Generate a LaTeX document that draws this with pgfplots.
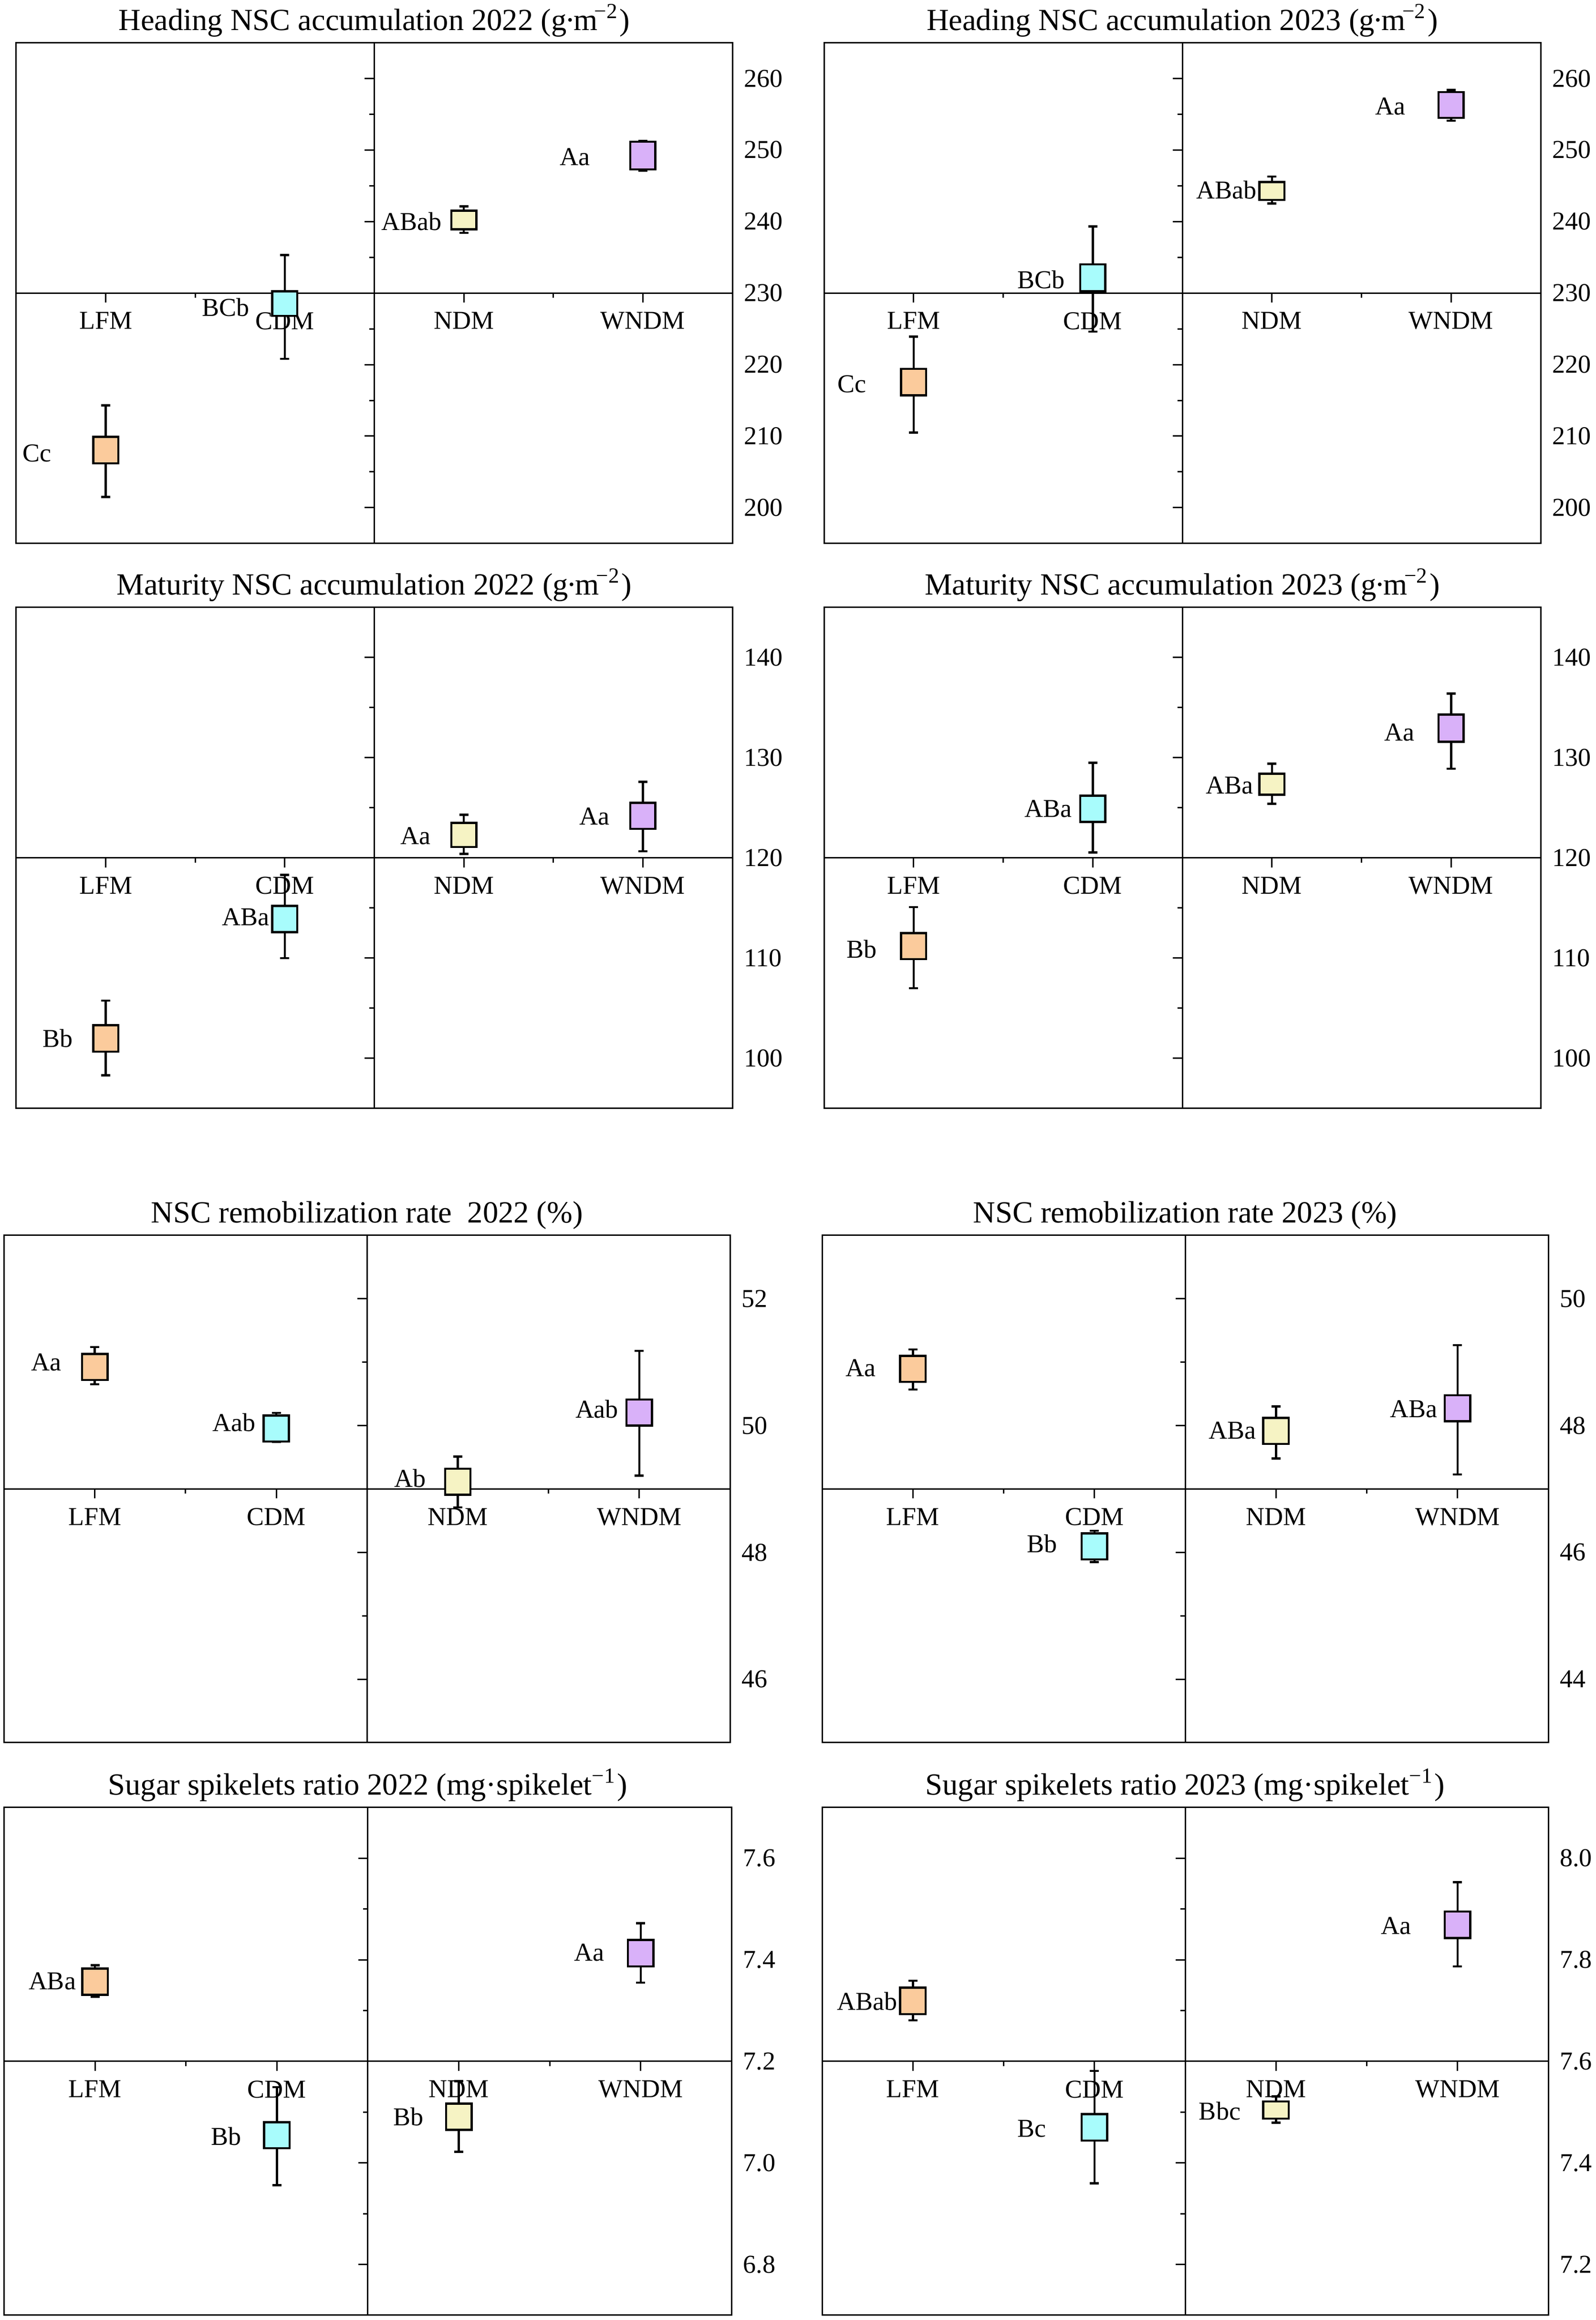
\documentclass[border=0pt]{standalone}
\usepackage{fontspec}
\setmainfont{Liberation Serif}
\usepackage{pgfplots}
\pgfplotsset{compat=1.18}
\definecolor{cLFM}{HTML}{FBCB9C}
\definecolor{cCDM}{HTML}{A8FCFC}
\definecolor{cNDM}{HTML}{F6F3C4}
\definecolor{cWNDM}{HTML}{D9B1F9}
\newcommand{\lblfont}{\fontsize{5.4}{6.5}\selectfont}
\newcommand{\ttlfont}{\fontsize{6.45}{7.7}\selectfont}
\newcommand{\gm}{(g\kern-0.05em·\kern-0.05em m\kern-0.1em\textsuperscript{−2})}
\pgfplotsset{
  midax/.style={scale only axis, anchor=north west, xmin=-2, xmax=2,
    axis lines=middle, axis line style={-, line width=0.3pt}, inner axis line style={-},
    xtick={-1.5,-0.5,0.5,1.5}, xticklabels={LFM,CDM,NDM,WNDM}, minor xtick={-1,0,1},
    yticklabels={}, tick align=outside, major tick length=2pt, minor tick length=1pt,
    every tick/.style={black, line width=0.3pt}, tick label style={font=\lblfont},
    xticklabel style={yshift=1.5pt}, /pgf/number format/assume math mode=true},
  mainax/.style={scale only axis, anchor=north west, xmin=0.5, xmax=4.5, xtick=\empty,
    yticklabel pos=right, major tick length=0pt, axis line style={line width=0.3pt},
    tick label style={font=\lblfont}, yticklabel style={xshift=-1.1pt},
    /pgf/number format/assume math mode=true,
    every axis title shift=0pt,
    title style={font=\ttlfont, at={(0.5,1)}, anchor=base, yshift=2.6pt}, clip=false},
}
% #1 colour, #2 position, #3 lower whisker, #4 box bottom, #5 mean, #6 box top, #7 upper whisker
\newcommand{\bx}[7]{%
  \pgfmathsetmacro\xbl{#2-0.07}\pgfmathsetmacro\xbr{#2+0.07}%
  \pgfmathsetmacro\xcl{#2-0.025}\pgfmathsetmacro\xcr{#2+0.025}%
  \addplot[black, line width=0.45pt] coordinates {(#2,#3) (#2,#7)};
  \addplot[black, line width=0.45pt] coordinates {(\xcl,#3) (\xcr,#3)};
  \addplot[black, line width=0.45pt] coordinates {(\xcl,#7) (\xcr,#7)};
  \addplot[draw=black, line width=0.45pt, fill=#1] coordinates {(\xbl,#4) (\xbr,#4) (\xbr,#6) (\xbl,#6)} -- cycle;
}
\newcommand{\lab}[3]{\node[anchor=east, inner sep=0pt, font=\lblfont] at (axis cs:#1,#2) {#3};}
\begin{document}
\begin{tikzpicture}
\useasboundingbox (0,0) rectangle (334.4pt,486.2pt);
% ---------- P1 Heading 2022
\begin{axis}[midax, at={(3.4pt,477.25pt)}, width=150.1pt, height=104.95pt,
  ymin=-35, ymax=35, ytick={-30,-20,-10,10,20,30}, minor ytick={-25,-15,-5,5,15,25}]
\end{axis}
\begin{axis}[mainax, at={(3.4pt,477.25pt)}, width=150.1pt, height=104.95pt,
  ymin=195, ymax=265, ytick={200,210,...,260},
  title={Heading NSC accumulation 2022 \gm}]
\bx{cLFM}{1}{201.5}{206.2}{208.0}{209.9}{214.3}
\bx{cCDM}{2}{220.8}{226.8}{228.5}{230.25}{235.3}
\bx{cNDM}{3}{238.4}{238.9}{240.2}{241.5}{242.1}
\bx{cWNDM}{4}{247.1}{247.3}{249.2}{251.15}{251.3}
\lab{0.70}{207.6}{Cc}
\lab{1.807}{228.0}{BCb}
\lab{2.88}{240.0}{ABab}
\lab{3.71}{249.0}{Aa}
\end{axis}
% ---------- P2 Heading 2023
\begin{axis}[midax, at={(172.7pt,477.25pt)}, width=150.2pt, height=104.95pt,
  ymin=-35, ymax=35, ytick={-30,-20,-10,10,20,30}, minor ytick={-25,-15,-5,5,15,25}]
\end{axis}
\begin{axis}[mainax, at={(172.7pt,477.25pt)}, width=150.2pt, height=104.95pt,
  ymin=195, ymax=265, ytick={200,210,...,260},
  title={Heading NSC accumulation 2023 \gm}]
\bx{cLFM}{1}{210.5}{215.7}{217.5}{219.4}{223.9}
\bx{cCDM}{2}{224.6}{230.25}{232.1}{234.0}{239.3}
\bx{cNDM}{3}{242.5}{243.0}{244.2}{245.5}{246.3}
\bx{cWNDM}{4}{254.1}{254.5}{256.3}{258.1}{258.4}
\lab{0.74}{217.3}{Cc}
\lab{1.85}{231.9}{BCb}
\lab{2.92}{244.4}{ABab}
\lab{3.75}{256.1}{Aa}
\end{axis}
% ---------- P3 Maturity 2022
\begin{axis}[midax, at={(3.4pt,358.9pt)}, width=150.1pt, height=105pt,
  ymin=-25, ymax=25, ytick={-20,-10,10,20}, minor ytick={-15,-5,5,15}]
\end{axis}
\begin{axis}[mainax, at={(3.4pt,358.9pt)}, width=150.1pt, height=105pt,
  ymin=95, ymax=145, ytick={100,110,...,140},
  title={Maturity NSC accumulation 2022 \gm}]
\bx{cLFM}{1}{98.3}{100.65}{102.0}{103.3}{105.76}
\bx{cCDM}{2}{110.0}{112.6}{113.9}{115.2}{118.3}
\bx{cNDM}{3}{120.4}{121.1}{122.3}{123.5}{124.3}
\bx{cWNDM}{4}{120.66}{122.9}{124.2}{125.5}{127.6}
\lab{0.82}{102.0}{Bb}
\lab{1.92}{114.1}{ABa}
\lab{2.82}{122.2}{Aa}
\lab{3.82}{124.15}{Aa}
\end{axis}
% ---------- P4 Maturity 2023
\begin{axis}[midax, at={(172.7pt,358.9pt)}, width=150.2pt, height=105pt,
  ymin=-25, ymax=25, ytick={-20,-10,10,20}, minor ytick={-15,-5,5,15}]
\end{axis}
\begin{axis}[mainax, at={(172.7pt,358.9pt)}, width=150.2pt, height=105pt,
  ymin=95, ymax=145, ytick={100,110,...,140},
  title={Maturity NSC accumulation 2023 \gm}]
\bx{cLFM}{1}{107.0}{109.9}{111.2}{112.5}{115.1}
\bx{cCDM}{2}{120.55}{123.6}{124.9}{126.2}{129.5}
\bx{cNDM}{3}{125.4}{126.3}{127.35}{128.4}{129.4}
\bx{cWNDM}{4}{128.9}{131.6}{132.95}{134.3}{136.4}
\lab{0.80}{110.9}{Bb}
\lab{1.89}{124.9}{ABa}
\lab{2.90}{127.25}{ABa}
\lab{3.80}{132.5}{Aa}
\end{axis}
% ---------- P5 Remobilization 2022
\begin{axis}[midax, at={(0.85pt,227.3pt)}, width=152.15pt, height=106.3pt,
  ymin=-4, ymax=4, ytick={-3,-1,1,3}, minor ytick={-2,2}]
\end{axis}
\begin{axis}[mainax, at={(0.85pt,227.3pt)}, width=152.15pt, height=106.3pt,
  ymin=45, ymax=53, ytick={46,48,50,52},
  title={NSC remobilization rate~ 2022 (\%)}]
\bx{cLFM}{1}{50.65}{50.72}{50.9}{51.13}{51.24}
\bx{cCDM}{2}{49.74}{49.75}{49.95}{50.16}{50.2}
\bx{cNDM}{3}{48.71}{48.91}{49.1}{49.32}{49.51}
\bx{cWNDM}{4}{49.21}{50.0}{50.2}{50.41}{51.18}
\lab{0.82}{51.0}{Aa}
\lab{1.89}{50.05}{Aab}
\lab{2.83}{49.17}{Ab}
\lab{3.89}{50.26}{Aab}
\end{axis}
% ---------- P6 Remobilization 2023
\begin{axis}[midax, at={(172.3pt,227.3pt)}, width=152.2pt, height=106.3pt,
  ymin=-4, ymax=4, ytick={-3,-1,1,3}, minor ytick={-2,2}]
\end{axis}
\begin{axis}[mainax, at={(172.3pt,227.3pt)}, width=152.2pt, height=106.3pt,
  ymin=43, ymax=51, ytick={44,46,48,50},
  title={NSC remobilization rate 2023 (\%)}]
\bx{cLFM}{1}{48.57}{48.69}{48.9}{49.10}{49.2}
\bx{cCDM}{2}{45.85}{45.89}{46.1}{46.30}{46.34}
\bx{cNDM}{3}{47.48}{47.71}{47.9}{48.12}{48.30}
\bx{cWNDM}{4}{47.23}{48.07}{48.27}{48.48}{49.27}
\lab{0.80}{48.91}{Aa}
\lab{1.80}{46.14}{Bb}
\lab{2.895}{47.92}{ABa}
\lab{3.895}{48.26}{ABa}
\end{axis}
% ---------- P7 Sugar 2022
\begin{axis}[midax, at={(0.85pt,107.4pt)}, width=152.5pt, height=106.4pt,
  ymin=-0.5, ymax=0.5, ytick={-0.4,-0.2,0.2,0.4}, minor ytick={-0.3,-0.1,0.1,0.3}]
\end{axis}
\begin{axis}[mainax, at={(0.85pt,107.4pt)}, width=152.5pt, height=106.4pt,
  ymin=6.7, ymax=7.7, ytick={6.8,7.0,7.2,7.4,7.6},
  yticklabel style={/pgf/number format/.cd, fixed, fixed zerofill, precision=1},
  title={Sugar spikelets ratio 2022 (mg·spikelet\textsuperscript{−1})}]
\bx{cLFM}{1}{7.327}{7.331}{7.357}{7.383}{7.3895}
\bx{cCDM}{2}{6.956}{7.029}{7.055}{7.080}{7.149}
\bx{cNDM}{3}{7.022}{7.065}{7.091}{7.117}{7.161}
\bx{cWNDM}{4}{7.355}{7.387}{7.413}{7.439}{7.472}
\lab{0.90}{7.358}{ABa}
\lab{1.81}{7.052}{Bb}
\lab{2.81}{7.091}{Bb}
\lab{3.805}{7.414}{Aa}
\end{axis}
% ---------- P8 Sugar 2023
\begin{axis}[midax, at={(172.3pt,107.4pt)}, width=152.2pt, height=106.4pt,
  ymin=-0.5, ymax=0.5, ytick={-0.4,-0.2,0.2,0.4}, minor ytick={-0.3,-0.1,0.1,0.3}]
\end{axis}
\begin{axis}[mainax, at={(172.3pt,107.4pt)}, width=152.2pt, height=106.4pt,
  ymin=7.1, ymax=8.1, ytick={7.2,7.4,7.6,7.8,8.0},
  yticklabel style={/pgf/number format/.cd, fixed, fixed zerofill, precision=1},
  title={Sugar spikelets ratio 2023 (mg·spikelet\textsuperscript{−1})}]
\bx{cLFM}{1}{7.681}{7.693}{7.719}{7.745}{7.759}
\bx{cCDM}{2}{7.360}{7.444}{7.47}{7.496}{7.581}
\bx{cNDM}{3}{7.479}{7.487}{7.504}{7.521}{7.531}
\bx{cWNDM}{4}{7.787}{7.843}{7.869}{7.895}{7.953}
\lab{0.92}{7.718}{ABab}
\lab{1.74}{7.467}{Bc}
\lab{2.81}{7.502}{Bbc}
\lab{3.75}{7.867}{Aa}
\end{axis}
\end{tikzpicture}
\end{document}
